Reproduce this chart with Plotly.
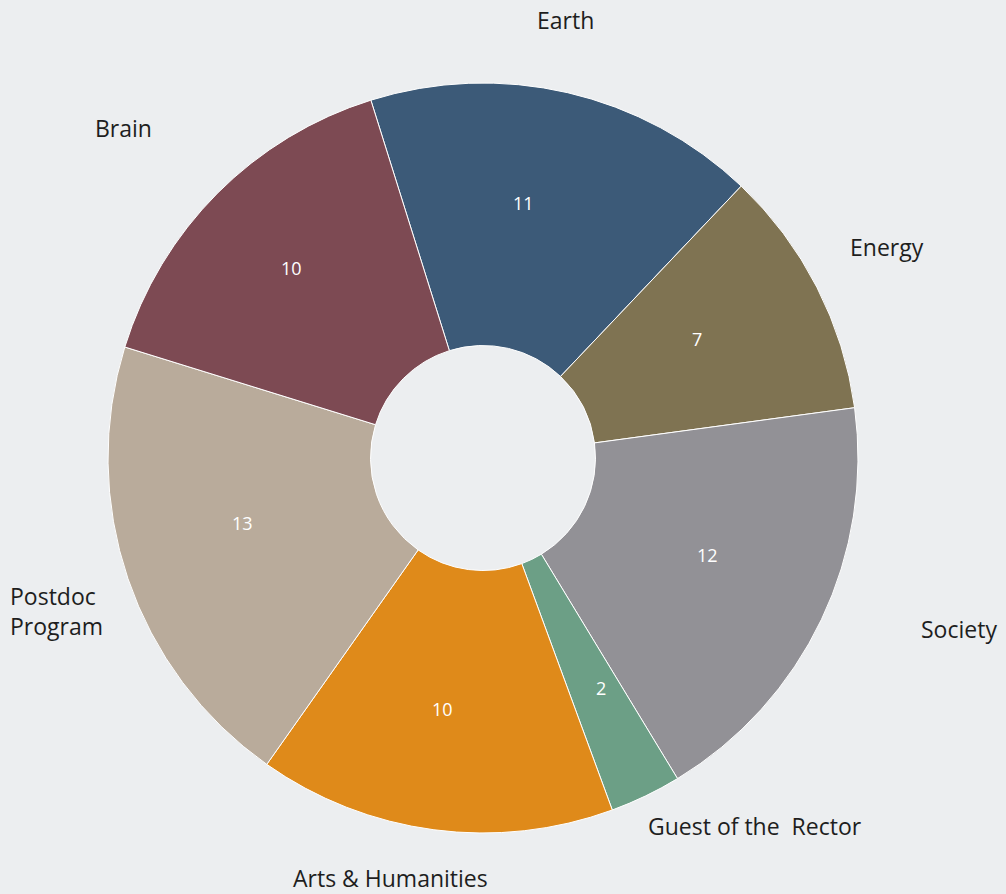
import math
import plotly.graph_objects as go

labels = ["Earth", "Energy", "Society", "Guest of the  Rector",
          "Arts & Humanities", "Postdoc<br>Program", "Brain"]
values = [11, 7, 12, 2, 10, 13, 10]
colors = ["#3c5a78", "#7f7352", "#929196", "#6c9f86",
          "#df8a1a", "#b9ab9b", "#7d4a53"]

# nudges for outside labels and inside values (pixels, x right / y up)
label_nudge = [(-19, 0), (3, 6), (70, 23), (77, 37), (-34, 26), (0, -8), (-41, 12)]
value_nudge = [(-16, 12), (-8, 5), (-1, 10), (10, -5), (-8, -4), (-4, 15), (-15, 14)]

rotation = -17.4
radius_px = 375
label_r = 1.2 * radius_px
value_r = 0.665 * radius_px

fig = go.Figure(go.Pie(
    labels=labels,
    values=values,
    sort=False,
    direction="clockwise",
    rotation=rotation,
    hole=0.3,
    marker=dict(colors=colors, line=dict(color="white", width=1)),
    textinfo="none",
    hoverinfo="label+value",
    showlegend=False,
    domain=dict(x=[108 / 1006, 858 / 1006], y=[61 / 894, 811 / 894]),
))

# names around the ring and values inside, at each slice's mid angle
cx = (108 / 1006 + 858 / 1006) / 2
cy = (61 / 894 + 811 / 894) / 2
total = sum(values)
start = rotation
for lab, v, (nx, ny), (vx, vy) in zip(labels, values, label_nudge, value_nudge):
    span = v / total * 360
    mid = math.radians(start + span / 2)
    start += span
    fig.add_annotation(
        x=cx, y=cy, xref="paper", yref="paper",
        text=lab, showarrow=False,
        xshift=label_r * math.sin(mid) + nx,
        yshift=label_r * math.cos(mid) + ny,
        font=dict(size=23, color="#1e1e1e", family="Open Sans"),
        align="left",
    )
    fig.add_annotation(
        x=cx, y=cy, xref="paper", yref="paper",
        text=str(v), showarrow=False,
        xshift=value_r * math.sin(mid) + vx,
        yshift=value_r * math.cos(mid) + vy,
        font=dict(size=18, color="white", family="Open Sans"),
    )

fig.update_layout(
    width=1006, height=894,
    margin=dict(l=0, r=0, t=0, b=0),
    paper_bgcolor="#eceef0",
    plot_bgcolor="#eceef0",
)

fig.write_html("out.html", config={"displayModeBar": False},
               post_script="document.body.style.margin='0';")
